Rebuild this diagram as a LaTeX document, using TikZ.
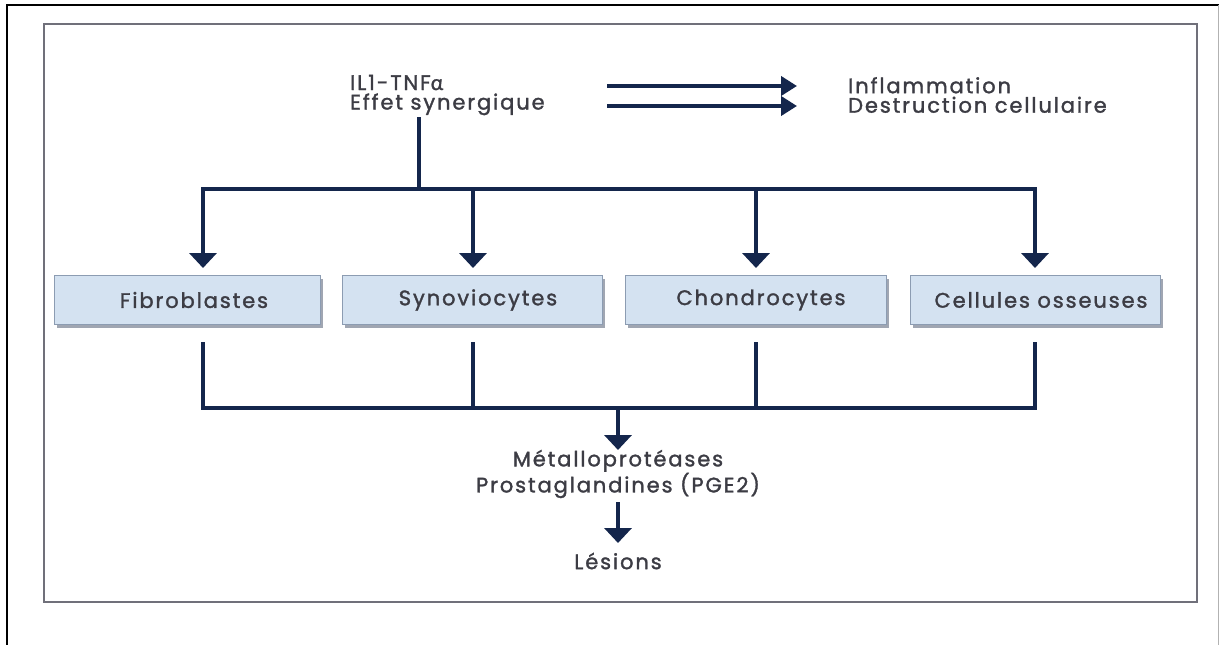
\documentclass[tikz,border=0pt]{standalone}
\usepackage{fontspec}
\setmainfont{Poppins}[LetterSpace=9, FakeBold=1.5]
\newfontfamily\grk{Lato}[FakeBold=1.5]
\usetikzlibrary{arrows.meta}
\definecolor{navy}{RGB}{20,38,76}
\definecolor{txt}{RGB}{60,60,68}
\definecolor{boxfill}{RGB}{212,226,241}
\definecolor{boxline}{RGB}{140,156,178}
\definecolor{shadowc}{RGB}{160,166,178}
\definecolor{framec}{RGB}{112,112,122}
\begin{document}
\begin{tikzpicture}[x=1pt,y=-1pt,
  lbl/.style={text=txt, font=\fontsize{21}{19.5}\selectfont, inner sep=0pt},
  celltext/.style={text=txt, font=\fontsize{21}{19}\selectfont, inner sep=0pt},
  cellbox/.style={draw=boxline, line width=1pt, fill=boxfill,
    minimum height=49pt, inner sep=0pt,
    preaction={fill=shadowc, transform canvas={shift={(3pt,-3pt)}}}},
  link/.style={draw=navy, line width=4.5pt},
  varrow/.style={link, -{Triangle[width=27pt,length=15pt]}},
  harrow/.style={link, -{Triangle[width=19pt,length=16pt]}},
]
\useasboundingbox (0,0) rectangle (1219,645);
% frames
\draw[black, line width=2pt] (7,645) -- (7,5) -- (1219,5);
\draw[gray!60, line width=1pt] (1218,5) -- (1218,645);
\draw[framec, line width=2.5pt] (44,24) rectangle (1197,602);

% top texts
\node[lbl, anchor=west, align=left] (src) at (350,95) {IL1-TNF{\grk α}\\Effet synergique};
\node[lbl, anchor=west, align=left] (eff) at (848,95) {Inflammation\\Destruction cellulaire};

\coordinate (h1s) at (607,86); \coordinate (h1e) at (797,86);
\coordinate (h2s) at (607,106); \coordinate (h2e) at (797,106);
\draw[harrow] (h1s) -- (h1e);
\draw[harrow] (h2s) -- (h2e);

% boxes
\node[cellbox, minimum width=266pt] (fib) at (187,300) {};
\node[cellbox, minimum width=260pt] (syn) at (472,300) {};
\node[cellbox, minimum width=261pt] (cho) at (755.5,300) {};
\node[cellbox, minimum width=250pt] (oss) at (1035,300) {};
\node[celltext] (tfib) at (194,300) {Fibroblastes};
\node[celltext] (tsyn) at (478,300) {Synoviocytes};
\node[celltext] (tcho) at (761,300) {Chondrocytes};
\node[celltext] (toss) at (1041,300) {Cellules osseuses};

% top distribution
\coordinate (t0) at (419,117);
\coordinate (j0) at (419,189);
\coordinate (b1) at (203,189);
\coordinate (b2) at (473,189);
\coordinate (b3) at (756,189);
\coordinate (b4) at (1035,189);
\coordinate (a1) at (203,268);
\coordinate (a2) at (473,268);
\coordinate (a3) at (756,268);
\coordinate (a4) at (1035,268);
\draw[link] (t0) -- (j0);
\draw[link, {Triangle[width=27pt,length=15pt]}-{Triangle[width=27pt,length=15pt]}] (a1) -- (b1) -- (b4) -- (a4);
\draw[varrow] (b2) -- (a2);
\draw[varrow] (b3) -- (a3);

% bottom collection
\coordinate (c1) at (203,342);
\coordinate (c2) at (473,342);
\coordinate (c3) at (756,342);
\coordinate (c4) at (1035,342);
\coordinate (d1) at (203,408);
\coordinate (d2) at (473,408);
\coordinate (d3) at (756,408);
\coordinate (d4) at (1035,408);
\coordinate (dm) at (618,408);
\draw[link] (c1) -- (d1) -- (d4) -- (c4);
\draw[link] (c2) -- (d2);
\draw[link] (c3) -- (d3);

% bottom texts
\node[lbl, align=center] (met) at (618,474) {Métalloprotéases\\Prostaglandines (PGE2)};
\node[lbl] (les) at (618,561) {Lésions};
\coordinate (m1) at (618,450);
\coordinate (m2) at (618,502);
\coordinate (m3) at (618,543);
\draw[varrow] (dm) -- (m1);
\draw[varrow] (m2) -- (m3);
\end{tikzpicture}
\end{document}
